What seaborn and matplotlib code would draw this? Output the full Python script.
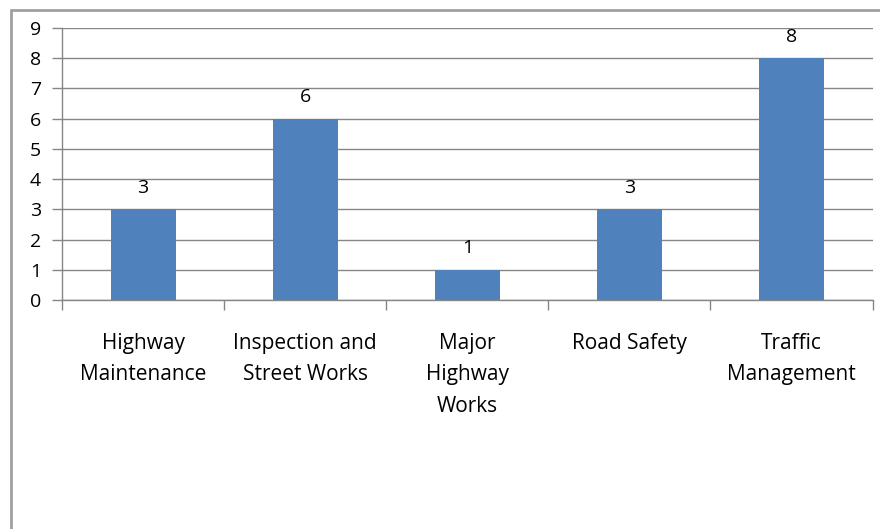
import numpy as np
import pandas as pd
import matplotlib
matplotlib.use('Agg')
import matplotlib.pyplot as plt
from matplotlib.lines import Line2D
import seaborn as sns

sns.set_theme(style='white')
plt.rcParams['font.family'] = ['Open Sans', 'DejaVu Sans']

# Chart data
categories = ['Highway\nMaintenance', 'Inspection and\nStreet Works', 'Major\nHighway\nWorks',
              'Road Safety', 'Traffic\nManagement']
counts = [3, 6, 1, 3, 8]
y_ticks = list(range(0, 10))

df = pd.DataFrame({'category': categories, 'count': counts})

bar_color = '#4F81BD'
line_gray = '#868686'

fig = plt.figure(figsize=(8.8, 5.29), dpi=100)
ax = fig.add_axes([0.0705, 0.433, 0.921, 0.514])

sns.barplot(data=df, x='category', y='count', color=bar_color, width=0.4,
            saturation=1, linewidth=0, ax=ax)

# Data labels
for i, v in enumerate(counts):
    ax.text(i, v + 0.42, str(v), ha='center', va='bottom', fontsize=14, color='black')

ax.set_xlim(-0.5, len(categories) - 0.5)
ax.set_ylim(0, 9)
ax.set_yticks(y_ticks)
ax.yaxis.grid(True, color=line_gray, linewidth=1)
ax.set_axisbelow(True)
ax.set_xlabel('')
ax.set_ylabel('')

for side in ['top', 'right']:
    ax.spines[side].set_visible(False)
for side in ['left', 'bottom']:
    ax.spines[side].set_color(line_gray)
    ax.spines[side].set_linewidth(1)

ax.tick_params(axis='y', which='major', left=True, length=7, width=1, color=line_gray,
               labelsize=14, pad=8, labelcolor='black')
ax.tick_params(axis='x', which='major', bottom=False, labelsize=15, pad=17.5, labelcolor='black')
ax.set_xticks(np.arange(-0.5, len(categories)), minor=True)
ax.tick_params(axis='x', which='minor', bottom=True, length=7, width=1, color=line_gray)
for lbl in ax.get_xticklabels():
    lbl.set_linespacing(1.68)

# Chart area border (left and top edges visible)
fig.add_artist(Line2D([0.0125, 0.0125], [0, 0.981], transform=fig.transFigure,
                      color='#A0A0A0', linewidth=2))
fig.add_artist(Line2D([0.0125, 1.0], [0.981, 0.981], transform=fig.transFigure,
                      color='#A0A0A0', linewidth=2))

fig.savefig('out.png', dpi=100)
